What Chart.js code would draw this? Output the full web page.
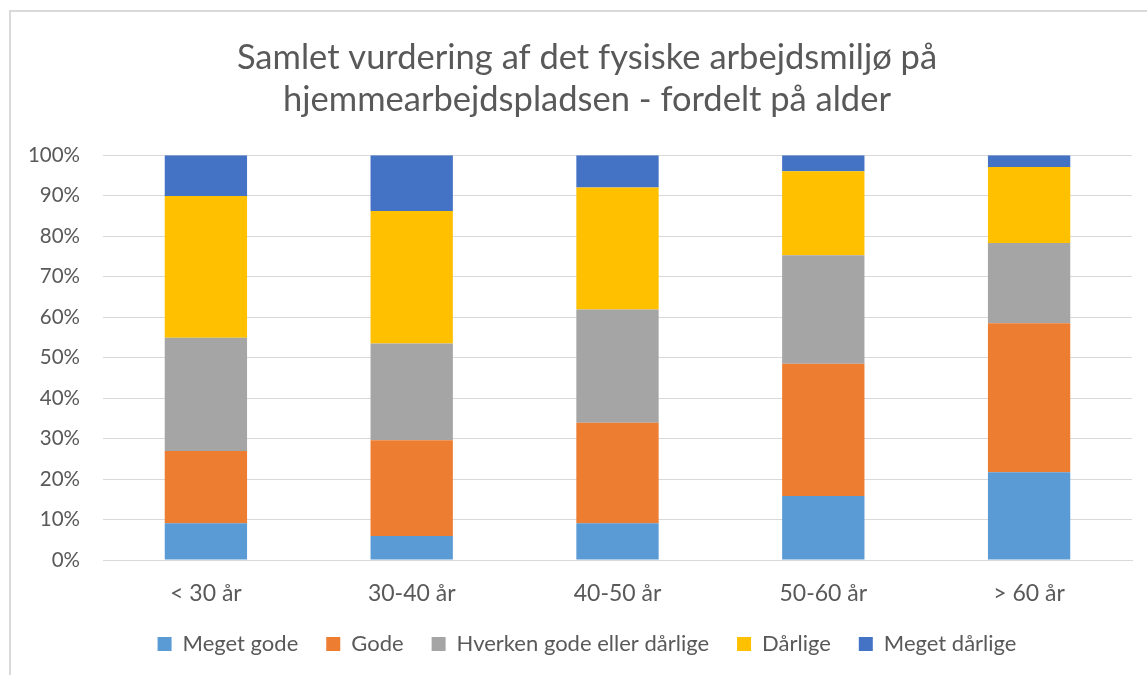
<!DOCTYPE html>
<html>
<head>
<meta charset="utf-8">
<script src="https://cdn.jsdelivr.net/npm/chart.js@4.4.0/dist/chart.umd.min.js"></script>
<style>
  html, body { margin: 0; padding: 0; background: #ffffff; overflow: hidden; width: 1147px; height: 675px; }
  #frame { position: absolute; left: 9px; top: 10px; width: 1160px; height: 700px; border: 2px solid #D9D9D9; box-sizing: border-box; }
  #wrap { position: absolute; left: 25px; top: 12px; width: 1124px; height: 663px; }
</style>
</head>
<body>
<div id="frame"></div>
<div id="wrap"><canvas id="c" width="1124" height="663"></canvas></div>
<script>
const categories = ['< 30 år', '30-40 år', '40-50 år', '50-60 år', '> 60 år'];
const seriesNames = ['Meget gode', 'Gode', 'Hverken gode eller dårlige', 'Dårlige', 'Meget dårlige'];
const megetGode = [9.1, 5.9, 9.1, 15.8, 21.7];
const gode = [17.8, 23.7, 24.8, 32.7, 36.8];
const hverken = [28.0, 23.9, 28.0, 26.8, 19.8];
const daarlige = [35.0, 32.7, 30.1, 20.7, 18.8];
const megetDaarlige = [10.1, 13.8, 8.0, 4.0, 2.9];
const colors = ['#5B9BD5', '#ED7D31', '#A5A5A5', '#FFC000', '#4472C4'];
const titleLines = ['Samlet vurdering af det fysiske arbejdsmiljø på', 'hjemmearbejdspladsen - fordelt på alder'];

const FONT = 'Lato, "Open Sans", sans-serif';
const values = [megetGode, gode, hverken, daarlige, megetDaarlige];

new Chart(document.getElementById('c'), {
  type: 'bar',
  data: {
    labels: categories,
    datasets: values.map((v, i) => ({
      label: seriesNames[i],
      data: v,
      backgroundColor: colors[i],
      borderWidth: 0,
      barPercentage: 0.4,
      categoryPercentage: 1.0,
      yAxisID: 'y'
    }))
  },
  options: {
    responsive: false,
    animation: false,
    layout: { padding: { left: 0, right: 0, top: 0, bottom: 10 } },
    plugins: {
      title: {
        display: true,
        text: titleLines,
        color: '#595959',
        font: { family: FONT, size: 34.5, weight: 'normal', lineHeight: 1.22 },
        padding: { top: 25, bottom: 34 }
      },
      legend: {
        position: 'bottom',
        labels: {
          color: '#595959',
          font: { family: FONT, size: 22 },
          boxWidth: 14,
          boxHeight: 14,
          padding: 28
        }
      },
      tooltip: { enabled: false }
    },
    scales: {
      x: {
        stacked: true,
        afterFit: (s) => { s.height = 45; },
        grid: { display: false, drawTicks: false },
        border: { display: true, color: '#D9D9D9', width: 1 },
        ticks: { color: '#595959', font: { family: FONT, size: 23, lineHeight: 1.15 }, padding: 20 }
      },
      y: {
        stacked: true,
        min: 0,
        max: 100,
        afterFit: (s) => { s.width = 78; },
        grid: { color: '#D9D9D9', lineWidth: 1, drawTicks: false },
        border: { display: false },
        ticks: {
          stepSize: 10,
          color: '#595959',
          font: { family: FONT, size: 20.5 },
          padding: 23,
          callback: (v) => v + '%'
        }
      },
      spacer: {
        type: 'linear',
        position: 'right',
        min: 0,
        max: 100,
        afterFit: (s) => { s.width = 17; },
        grid: { display: false, drawTicks: false },
        border: { display: false },
        ticks: { display: false }
      }
    }
  }
});
</script>
</body>
</html>
